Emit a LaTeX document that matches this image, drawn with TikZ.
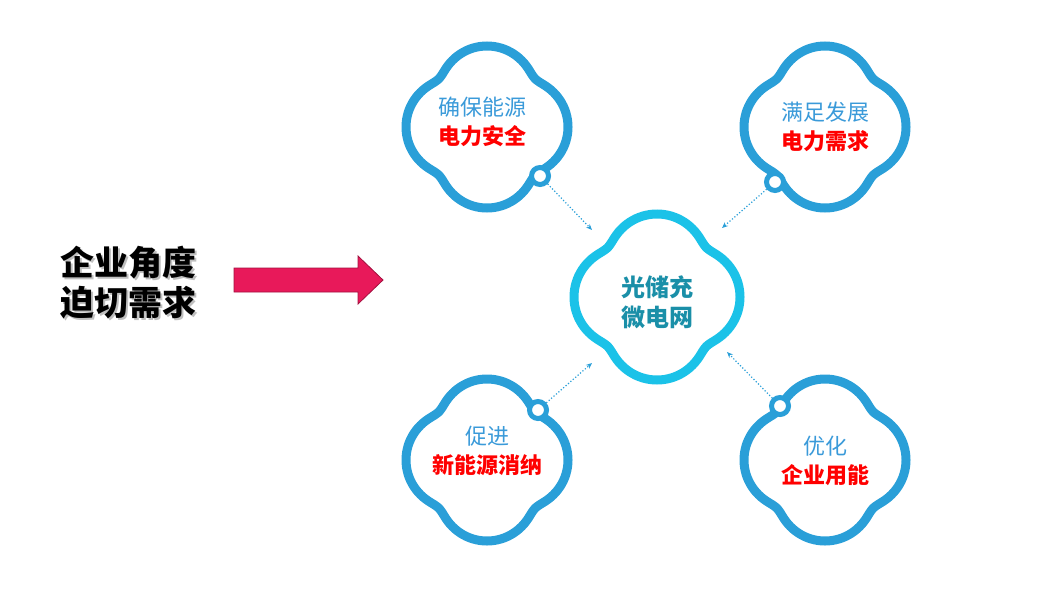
\documentclass[tikz,border=0pt]{standalone}
\usepackage{fontspec}
\setmainfont{Noto Sans CJK SC}
\usetikzlibrary{arrows.meta}
\definecolor{cblue}{HTML}{2A9FD8}
\definecolor{ccyan}{HTML}{1BC2E8}
\definecolor{tblue}{HTML}{3A9AD9}
\definecolor{tteal}{HTML}{1A8FA8}
\definecolor{apink}{HTML}{E8195A}
\tikzset{
 ring/.style={circle,draw=cblue,line width=5pt,fill=white,minimum size=17pt,inner sep=0pt},
 link/.style={cblue,line width=1.2pt,dotted,-{Stealth[length=6pt,width=5pt]}},
 toptext/.style={font=\fontsize{22}{24}\selectfont,text=tblue},
 redtext/.style={font=\fontsize{22}{24}\selectfont\bfseries,text=red},
 declare function={lob(\u)=0.4*cos(\u)+sqrt(0.36-0.16*sin(\u)*sin(\u));
   clr(\t)=(lob(\t)^20+lob(\t-90)^20+lob(\t-180)^20+lob(\t-270)^20)^(0.05);}
}
\newcommand{\cloud}[4]{\draw[#4,line width=9pt] plot[domain=0:360,samples=145,smooth cycle] ({#1+#3*clr(\x)*cos(\x)},{#2+#3*clr(\x)*sin(\x)});}
\begin{document}
\begin{tikzpicture}[x=1pt,y=-1pt]
\useasboundingbox (0,0) rectangle (1063,605);
\cloud{487}{127}{81}{cblue}
\cloud{825}{127}{81}{cblue}
\cloud{487}{460}{81}{cblue}
\cloud{825}{460}{81}{cblue}
\cloud{657}{297}{83}{ccyan}
\node[toptext] (t1) at (482,107) {确保能源};
\node[redtext] (r1) at (482,136) {电力安全};
\node[toptext] (t2) at (825,112) {满足发展};
\node[redtext] (r2) at (825,141) {电力需求};
\node[toptext] (t3) at (487,436) {促进};
\node[redtext] (r3) at (487,465) {新能源消纳};
\node[toptext] (t4) at (825,446) {优化};
\node[redtext] (r4) at (825,475) {企业用能};
\node[font=\fontsize{24}{30}\selectfont\bfseries,text=tteal,align=center] (c) at (657,302) {光储充\\微电网};
\node[ring] (k1) at (540,176) {};
\node[ring] (k2) at (775,182) {};
\node[ring] (k3) at (538,410) {};
\node[ring] (k4) at (780,406) {};
\coordinate (e1) at (592,230);
\coordinate (e2) at (722,228);
\coordinate (e3) at (592,363);
\coordinate (e4) at (727,352);
\draw[link] (k1) -- (e1);
\draw[link] (k2) -- (e2);
\draw[link] (k3) -- (e3);
\draw[link] (k4) -- (e4);
\node[font=\fontsize{34}{40}\selectfont\bfseries,text=black!25,align=center] at (130,285) {企业角度\\迫切需求};
\node[font=\fontsize{34}{40}\selectfont\bfseries,align=center] (lt) at (128,283) {企业角度\\迫切需求};
\draw[draw=apink!70!black,fill=apink,line width=0.8pt] (234,268) -- (358,268) -- (358,256) -- (383,280) -- (358,304) -- (358,292) -- (234,292) -- cycle;
\end{tikzpicture}
\end{document}
